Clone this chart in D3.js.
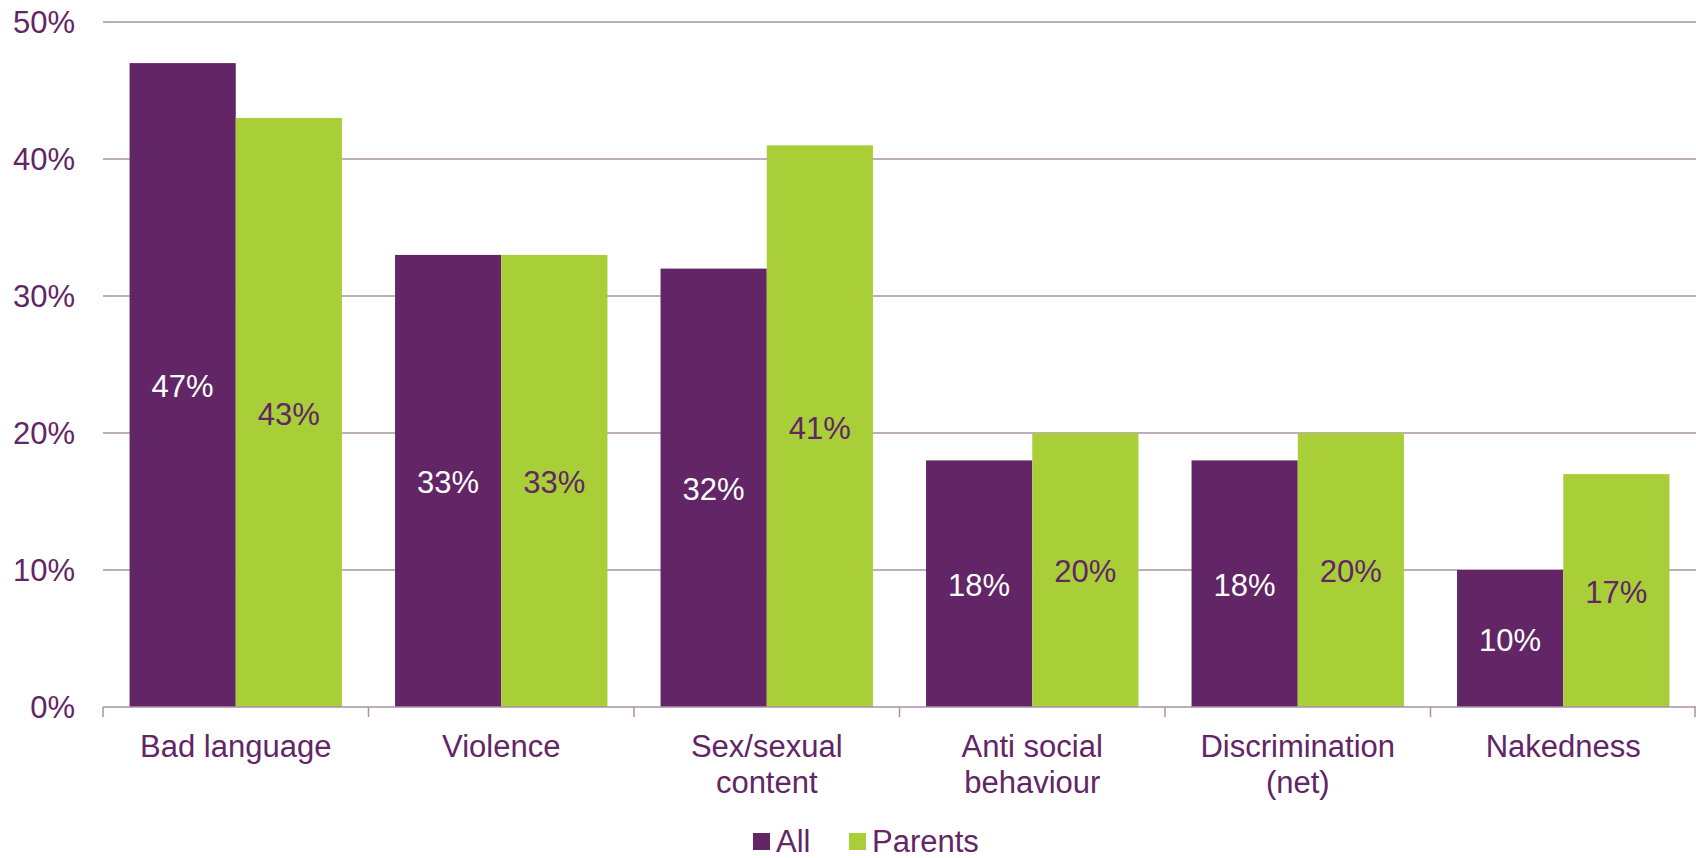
<!DOCTYPE html>
<html>
<head>
<meta charset="utf-8">
<script src="https://cdn.jsdelivr.net/npm/d3@7"></script>
<style>
  body { margin: 0; background: #fff; }
  text { font-family: "Liberation Sans", Arial, sans-serif; }
</style>
</head>
<body>
<div id="chart"></div>
<script>
const width = 1696;
const height = 858;

// data
const categories = [["Bad language"], ["Violence"], ["Sex/sexual", "content"], ["Anti social", "behaviour"], ["Discrimination", "(net)"], ["Nakedness"]];
const seriesNames = ["All", "Parents"];
const allValues = [47, 33, 32, 18, 18, 10];
const parentValues = [43, 33, 41, 20, 20, 17];
const yTicks = [0, 10, 20, 30, 40, 50];

const purple = "#622566";
const green = "#a9cf38";
const gridColor = "#a892a9";
const colors = [purple, green];
const fontSize = 31;

const margin = {top: 22, right: 0, bottom: 151, left: 103};

const svg = d3.select("#chart")
    .append("svg")
        .attr("width", width)
        .attr("height", height);

const x = d3.scaleBand()
    .domain(d3.range(categories.length))
    .range([margin.left, width - margin.right])
    .paddingInner(0.2)
    .paddingOuter(0.1);

// band used for tick positions (no padding)
const xTickBand = d3.scaleBand()
    .domain(d3.range(categories.length))
    .range([margin.left, width - margin.right]);

const x1 = d3.scaleBand()
    .domain(d3.range(seriesNames.length))
    .range([0, x.bandwidth()]);

const y = d3.scaleLinear()
    .domain([0, 50])
    .range([height - margin.bottom, margin.top]);

// gridlines
svg.append("g")
    .selectAll("line")
    .data(yTicks.filter(d => d > 0))
    .join("line")
        .attr("x1", margin.left)
        .attr("x2", width - margin.right)
        .attr("y1", d => y(d))
        .attr("y2", d => y(d))
        .attr("stroke", gridColor)
        .attr("stroke-width", 1.5);

// y labels
svg.append("g")
    .selectAll("text")
    .data(yTicks)
    .join("text")
        .attr("x", 75)
        .attr("y", d => y(d))
        .attr("dy", "0.35em")
        .attr("text-anchor", "end")
        .attr("fill", purple)
        .attr("font-size", fontSize)
        .text(d => d + "%");

const table = categories.map((c, i) => [allValues[i], parentValues[i]]);

// bars
const groups = svg.append("g")
    .selectAll("g")
    .data(table)
    .join("g")
        .attr("transform", (d, i) => "translate(" + x(i) + ",0)");

groups.selectAll("rect")
    .data(d => d)
    .join("rect")
        .attr("x", (d, j) => x1(j))
        .attr("width", x1.bandwidth())
        .attr("y", d => y(d))
        .attr("height", d => y(0) - y(d))
        .attr("fill", (d, j) => colors[j]);

groups.selectAll("text")
    .data(d => d)
    .join("text")
        .attr("x", (d, j) => x1(j) + x1.bandwidth() / 2)
        .attr("y", d => (y(d) + y(0)) / 2)
        .attr("dy", "0.4em")
        .attr("text-anchor", "middle")
        .attr("font-size", fontSize)
        .attr("fill", (d, j) => j === 0 ? "#ffffff" : purple)
        .text(d => d + "%");

// x axis line and ticks
const axisG = svg.append("g");
axisG.append("line")
    .attr("x1", margin.left)
    .attr("x2", width - margin.right)
    .attr("y1", y(0))
    .attr("y2", y(0))
    .attr("stroke", gridColor)
    .attr("stroke-width", 1.5);

axisG.selectAll("line.tick")
    .data(d3.range(categories.length + 1))
    .join("line")
        .attr("class", "tick")
        .attr("x1", i => i < categories.length ? xTickBand(i) : width - margin.right - 1)
        .attr("x2", i => i < categories.length ? xTickBand(i) : width - margin.right - 1)
        .attr("y1", y(0))
        .attr("y2", y(0) + 10)
        .attr("stroke", gridColor)
        .attr("stroke-width", 1.5);

// category labels
svg.append("g")
    .selectAll("text")
    .data(categories)
    .join("text")
        .attr("x", (d, i) => xTickBand(i) + xTickBand.bandwidth() / 2)
        .attr("y", 757)
        .attr("text-anchor", "middle")
        .attr("fill", purple)
        .attr("font-size", fontSize)
        .each(function(d) {
            d3.select(this).selectAll("tspan")
                .data(d)
                .join("tspan")
                    .attr("x", d3.select(this).attr("x"))
                    .attr("dy", (t, k) => k === 0 ? 0 : 36)
                    .text(t => t);
        });

// legend
const legendX = [753, 849];
const legend = svg.append("g")
    .selectAll("g")
    .data(seriesNames)
    .join("g")
        .attr("transform", (d, i) => "translate(" + legendX[i] + ",833)");

legend.append("rect")
    .attr("width", 17)
    .attr("height", 17)
    .attr("fill", (d, i) => colors[i]);

legend.append("text")
    .attr("x", 23)
    .attr("y", 19)
    .attr("fill", purple)
    .attr("font-size", fontSize)
    .text(d => d);
</script>
</body>
</html>
